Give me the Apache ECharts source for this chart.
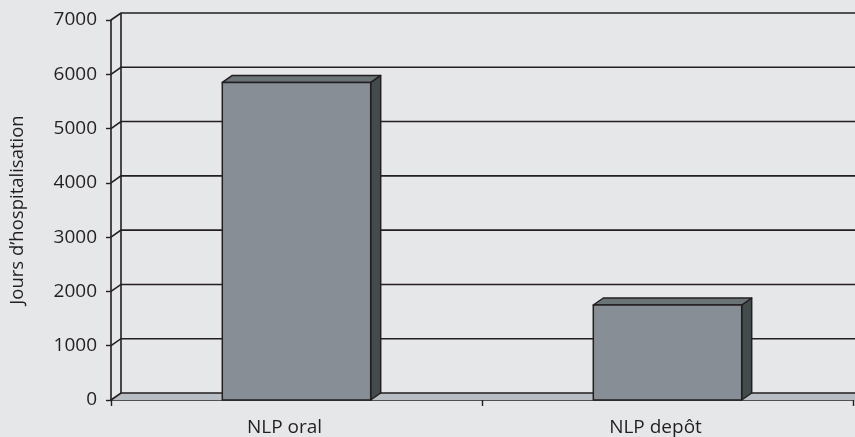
<!DOCTYPE html>
<html>
<head>
<meta charset="utf-8">
<script src="https://cdn.jsdelivr.net/npm/echarts@6/dist/echarts.min.js"></script>
<style>
html,body{margin:0;padding:0;background:#e6e7e9;}
#c{width:855px;height:437px;}
</style>
</head>
<body>
<div id="c"></div>
<script>
const categories = ['NLP oral', 'NLP depôt'];
const values = [5850, 1750];
const yTicks = [0, 1000, 2000, 3000, 4000, 5000, 6000, 7000];
const yTitle = 'Jours d\u2019hospitalisation';

const DX = 10, DY = -7;
const LINE = '#231f20';
const FONT = 'Open Sans';

const chart = echarts.init(document.getElementById('c'));

function wallItem(params, api) {
  const cs = params.coordSys;
  const v = api.value(1);
  const y = api.coord([0, v])[1];
  const xl = cs.x, xr = cs.x + cs.width + 6;
  const children = [];
  if (v === 0) {
    children.push({
      type: 'polygon', z2: 1,
      shape: { points: [[xl, y], [xl + DX, y + DY], [xr, y + DY], [xr, y]] },
      style: { fill: '#b9bec5', stroke: null }
    });
    children.push({
      type: 'polyline', z2: 2,
      shape: { points: [[xl, y], [xl + DX, y + DY], [xr, y + DY]] },
      style: { stroke: LINE, lineWidth: 1.6, fill: null }
    });
    children.push({
      type: 'line', z2: 2,
      shape: { x1: xl + DX, y1: y + DY, x2: xl + DX, y2: cs.y + DY },
      style: { stroke: LINE, lineWidth: 1.6 }
    });
  } else {
    children.push({
      type: 'polyline', z2: 2,
      shape: { points: [[xl, y], [xl + DX, y + DY], [xr, y + DY]] },
      style: { stroke: LINE, lineWidth: 1.6, fill: null }
    });
  }
  return { type: 'group', children };
}

function barItem(params, api) {
  const i = api.value(0), v = api.value(1);
  const top = api.coord([i, v]);
  const base = api.coord([i, 0]);
  const w = api.size([1, 0])[0] * 0.4;
  const xl = top[0] - w / 2, xr = top[0] + w / 2;
  const yt = top[1], yb = base[1];
  const st = { stroke: LINE, lineWidth: 1.5, lineJoin: 'round' };
  return {
    type: 'group',
    children: [
      { type: 'polygon', shape: { points: [[xr, yt], [xr + DX, yt + DY], [xr + DX, yb + DY], [xr, yb]] },
        style: Object.assign({ fill: '#434b4d' }, st) },
      { type: 'polygon', shape: { points: [[xl, yt], [xl + DX, yt + DY], [xr + DX, yt + DY], [xr, yt]] },
        style: Object.assign({ fill: '#6b7377' }, st) },
      { type: 'rect', shape: { x: xl, y: yt, width: w, height: yb - yt },
        style: Object.assign({ fill: '#878e96' }, st) }
    ]
  };
}

chart.setOption({
  backgroundColor: '#e6e7e9',
  animation: false,
  grid: { left: 109, right: 2, top: 20, bottom: 37, containLabel: false },
  xAxis: {
    type: 'category',
    data: categories,
    boundaryGap: true,
    axisLine: { show: true, lineStyle: { color: LINE, width: 1.6 } },
    axisTick: { show: true, length: 6, alignWithLabel: false, lineStyle: { color: LINE, width: 1.4 } },
    axisLabel: { color: LINE, fontFamily: FONT, fontSize: 19, margin: 18, padding: [0, 24, 0, 0] },
    splitLine: { show: false }
  },
  yAxis: {
    type: 'value',
    min: 0, max: 7000, interval: 1000,
    name: yTitle,
    nameLocation: 'middle',
    nameGap: 84,
    nameTextStyle: { color: LINE, fontFamily: FONT, fontSize: 18.5 },
    axisLine: { show: true, lineStyle: { color: LINE, width: 1.6 } },
    axisTick: { show: true, length: 5, lineStyle: { color: LINE, width: 1.4 } },
    axisLabel: { color: LINE, fontFamily: FONT, fontSize: 19, margin: 14,
      formatter: function (v) { return yTicks.indexOf(v) >= 0 ? String(v) : ''; } },
    splitLine: { show: false }
  },
  series: [
    {
      type: 'custom',
      coordinateSystem: 'cartesian2d',
      clip: false,
      z: 1,
      silent: true,
      encode: { x: 0, y: 1 },
      data: yTicks.map(v => [0, v]),
      renderItem: wallItem
    },
    {
      type: 'custom',
      coordinateSystem: 'cartesian2d',
      clip: false,
      z: 3,
      encode: { x: 0, y: 1 },
      data: values.map((v, i) => [i, v]),
      renderItem: barItem
    }
  ]
});
</script>
</body>
</html>
